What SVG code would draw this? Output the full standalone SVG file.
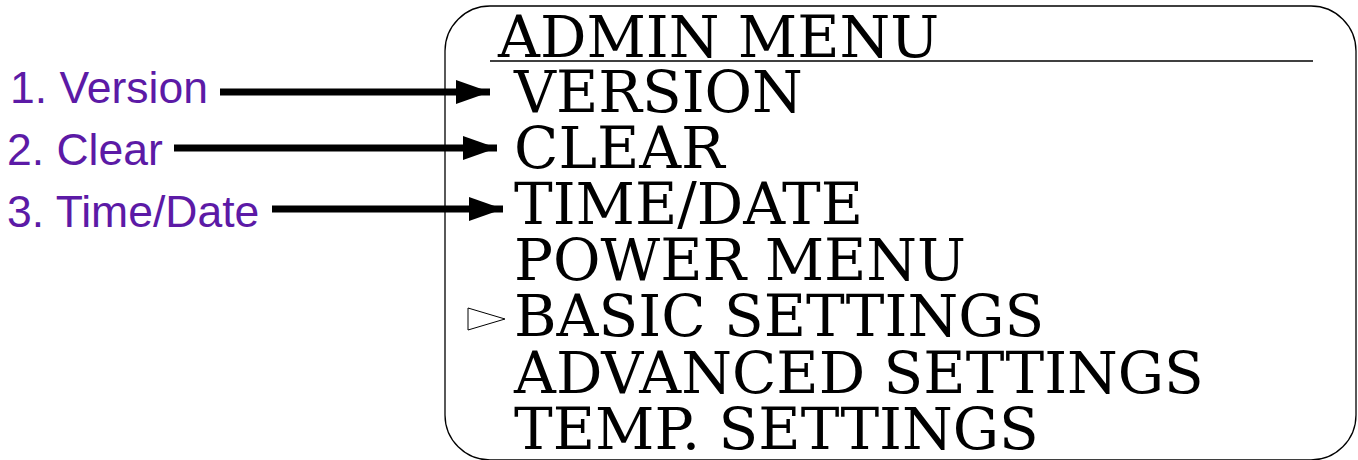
<svg xmlns="http://www.w3.org/2000/svg" width="1358" height="460" viewBox="0 0 1358 460">
<style>
.menu{font-family:"DejaVu Serif",serif;font-size:58px;fill:#000}
.lbl{font-family:"Liberation Sans",Arial,sans-serif;font-size:44.5px;fill:#5c1aa6}
.conn{stroke:#000;stroke-width:7;fill:none}
</style>
<defs>
<marker id="ah" markerUnits="userSpaceOnUse" markerWidth="34" markerHeight="24" refX="34" refY="12" orient="auto">
<path d="M0,0 L34,12 L0,24 Z" fill="#000"/>
</marker>
</defs>
<rect width="1358" height="460" fill="#fff"/>
<g id="menu-box">
<rect x="445" y="6" width="911" height="454" rx="45" ry="45" fill="none" stroke="#000" stroke-width="1.3"/>
<text class="menu" x="498" y="57">ADMIN MENU</text>
<line x1="490" y1="61" x2="1313" y2="61" stroke="#000" stroke-width="1.3"/>
</g>
<g id="item-version"><text class="menu" x="514" y="112">VERSION</text></g>
<g id="item-clear"><text class="menu" x="514" y="168">CLEAR</text></g>
<g id="item-timedate"><text class="menu" x="514" y="224">TIME/DATE</text></g>
<g id="item-power"><text class="menu" x="514" y="280">POWER MENU</text></g>
<g id="item-basic">
<polygon points="468,308 505,319 468,330" fill="none" stroke="#000" stroke-width="1"/>
<text class="menu" x="514" y="336">BASIC SETTINGS</text>
</g>
<g id="item-advanced"><text class="menu" x="514" y="393">ADVANCED SETTINGS</text></g>
<g id="item-temp"><text class="menu" x="514" y="449">TEMP. SETTINGS</text></g>
<g id="label-1"><text class="lbl" x="10" y="103">1. Version</text></g>
<g id="label-2"><text class="lbl" x="7" y="165">2. Clear</text></g>
<g id="label-3"><text class="lbl" x="7" y="227">3. Time/Date</text></g>
<g id="connectors">
<line class="conn" x1="220" y1="92" x2="490" y2="92" marker-end="url(#ah)"/>
<line class="conn" x1="174" y1="148" x2="497" y2="148" marker-end="url(#ah)"/>
<line class="conn" x1="272" y1="209" x2="503" y2="209" marker-end="url(#ah)"/>
</g>
</svg>
